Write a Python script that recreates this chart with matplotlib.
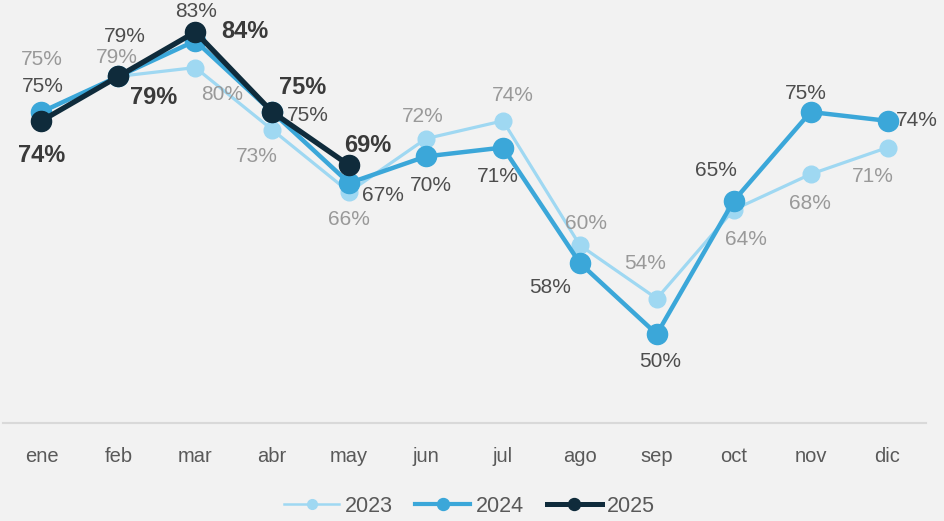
import matplotlib
matplotlib.use("Agg")
import matplotlib.pyplot as plt
from matplotlib.lines import Line2D

plt.rcParams['font.family'] = ['Liberation Sans', 'DejaVu Sans']

months = ["ene", "feb", "mar", "abr", "may", "jun", "jul", "ago", "sep", "oct", "nov", "dic"]
v2023 = [75, 79, 80, 73, 66, 72, 74, 60, 54, 64, 68, 71]
v2024 = [75, 79, 83, 75, 67, 70, 71, 58, 50, 65, 75, 74]
v2025 = [74, 79, 84, 75, 69]

# label offsets in pixels (dx right, dy down)
off2023 = [(0, -52), (-2, -19), (27, 27), (-15, 27), (0, 28), (-3, -22), (10, -25),
           (6, -22), (-12, -35), (12, 30), (-1, 29), (-15, 29)]
off2024 = [(1, -25), (6, -40), (1, -29), (36, 4), (34, 12), (5, 29), (-5, 29),
           (-30, 24), (3, 27), (-18, -30), (-5, -18), (29, 0)]
off2025 = [(0, 35), (35, 21), (50, 0), (30, -24), (19, -20)]

c2023 = "#9fd8f2"
c2024 = "#3ba7d9"
c2025 = "#0f2b3b"
bg = "#f2f2f2"

fig = plt.figure(figsize=(9.45, 5.21), dpi=100, facecolor=bg)
ax = fig.add_axes([3/945, (521-423)/521, 923/945, 423/521])
ax.set_facecolor(bg)

x = list(range(len(months)))
ax.plot(x, v2023, color=c2023, lw=2.3, marker='o', ms=12, zorder=2)
ax.plot(x, v2024, color=c2024, lw=3.2, marker='o', ms=14.5, zorder=3)
ax.plot(x[:len(v2025)], v2025, color=c2025, lw=3.8, marker='o', ms=14.5, zorder=4)

px = 72/100.0
def label(vals, offs, color, size, weight):
    for i, (v, (dx, dy)) in enumerate(zip(vals, offs)):
        ax.annotate(f"{v}%", (i, v), xytext=(dx*px, -dy*px), textcoords='offset points',
                    ha='center', va='center', fontsize=size, color=color,
                    fontweight=weight, zorder=10, annotation_clip=False)

label(v2023, off2023, "#999999", 15, 'normal')
label(v2024, off2024, "#4d4d4d", 15, 'normal')
label(v2025, off2025, "#3a3a3a", 17, 'bold')

ax.set_xlim(-0.5, 11.5)
ax.set_ylim(40, 87.6)
ax.set_yticks([])
ax.set_xticks(x)
ax.set_xticklabels(months, fontsize=14.5, color="#595959")
ax.tick_params(axis='x', length=0, pad=17)
for s in ['top', 'left', 'right']:
    ax.spines[s].set_visible(False)
ax.spines['bottom'].set_color("#d9d9d9")
ax.spines['bottom'].set_linewidth(1.5)

handles = [Line2D([], [], color=c2023, lw=1.8, marker='o', ms=7),
           Line2D([], [], color=c2024, lw=3, marker='o', ms=8.6),
           Line2D([], [], color=c2025, lw=3.6, marker='o', ms=8.6)]
leg = fig.legend(handles, ["2023", "2024", "2025"], loc='center', ncol=3,
                 bbox_to_anchor=(0.497, 1 - 506/521), frameon=False, fontsize=15.5,
                 handlelength=2.55, handletextpad=0.25, columnspacing=1.07)
for t in leg.get_texts():
    t.set_color("#595959")

fig.savefig("out.png", dpi=100, facecolor=bg)
